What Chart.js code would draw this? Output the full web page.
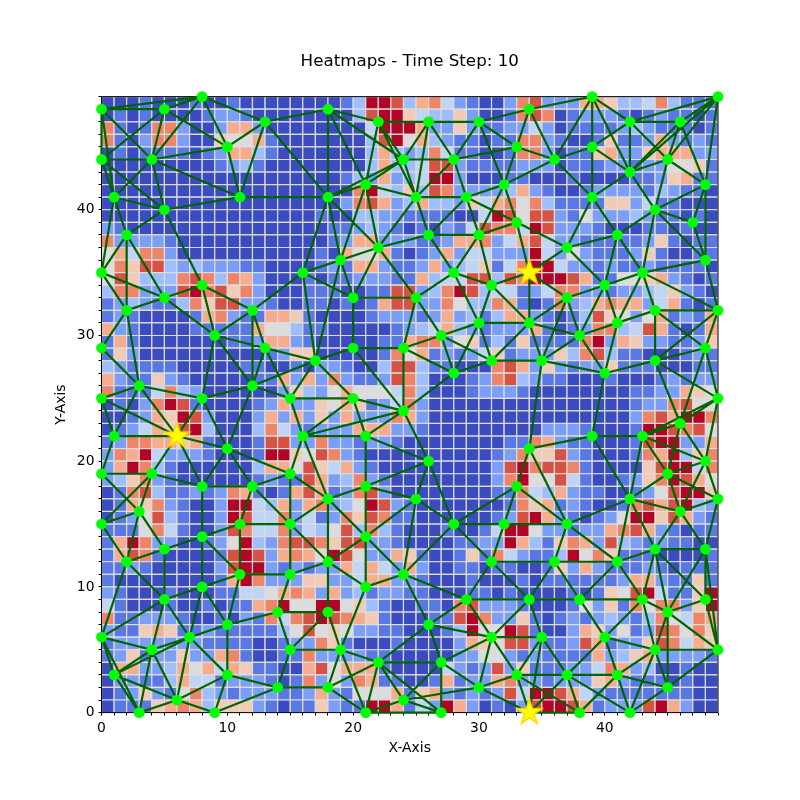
<!DOCTYPE html>
<html lang="en">
<head>
    <meta charset="UTF-8">
    <title>Heatmaps - Time Step: 10</title>
    <script src="https://cdn.jsdelivr.net/npm/chart.js@4.4.0/dist/chart.umd.min.js"></script>
    <style>
        body { margin: 0; background: #fff; }
        canvas { display: block; }
    </style>
</head>
<body>
    <canvas id="chart" width="800" height="800"></canvas>
    <script>
        // heat levels 0-10, first row is the top one (y 48-49), one column per unit of x
        const heatRows = [
            [0,0,0,1,0,0,0,1,0,0,1,0,0,0,0,0,0, 0,0,1,3,10,10,9,3,7,8,4,2,1,0,0,2, 8,9,2,2,2,7,7,6,3,3,4,8,3,1,1,1],
            [0,1,0,1,0,0,0,0,1,2,2,1,0,0,0,0,0, 0,0,0,3,9,10,10,6,4,3,3,6,2,0,0,1, 8,9,8,0,1,2,2,2,1,0,1,2,1,1,0,1],
            [8,1,0,1,8,8,2,0,0,2,7,7,2,0,0,0,0, 0,0,0,0,4,10,10,10,7,2,2,6,2,1,1,2, 2,4,2,0,1,1,1,1,2,3,2,1,1,1,0,1],
            [8,1,0,2,8,8,2,0,0,6,5,5,7,1,0,0,0, 0,0,0,0,3,9,10,5,7,3,2,1,1,0,1,1, 8,8,2,1,0,0,1,6,1,1,2,7,2,1,2,1],
            [0,1,0,1,1,1,1,0,1,2,7,7,3,1,0,0,0, 0,0,0,0,3,7,3,2,3,8,4,1,1,0,0,1, 8,8,2,0,1,1,6,7,2,2,6,7,7,7,2,2],
            [0,0,0,0,0,0,0,0,0,1,2,3,1,0,0,0,0, 0,0,0,0,3,7,3,3,4,9,9,2,1,1,1,1, 2,2,2,0,1,1,1,2,2,1,2,2,5,5,6,1],
            [0,0,0,0,0,0,0,0,0,0,0,0,0,0,0,0,0, 0,0,1,3,2,7,2,3,4,10,10,2,0,0,0,1, 1,0,0,0,1,0,0,0,0,1,1,2,6,7,1,1],
            [0,0,0,0,0,0,0,0,0,0,0,0,0,0,0,0,0, 0,0,0,8,10,4,3,6,3,9,8,2,2,2,2,3, 7,2,1,0,0,1,2,2,2,2,1,3,2,1,1,0],
            [0,0,0,0,0,0,0,0,0,0,0,0,0,0,0,0,0, 0,0,2,8,9,7,2,3,7,3,3,2,6,4,7,8, 5,8,3,1,1,1,1,6,6,2,4,1,1,0,0,0],
            [0,0,0,0,0,0,0,0,0,0,0,0,0,0,0,0,0, 1,0,0,3,3,2,2,1,1,1,1,0,0,4,10,9, 5,9,9,2,1,5,2,2,2,3,2,1,1,0,1,0],
            [2,1,0,0,0,0,0,0,0,0,0,0,0,0,0,0,0, 0,1,1,2,3,2,1,0,1,0,2,1,4,9,8,8, 4,10,9,2,2,2,1,0,0,0,1,1,0,1,0,0],
            [8,2,2,2,2,1,0,0,0,0,0,0,0,0,0,0,0, 0,1,2,7,7,2,2,2,1,1,2,7,7,8,2,4, 7,9,4,2,2,1,1,1,1,1,2,6,1,0,1,1],
            [5,7,4,8,8,2,0,0,0,0,0,0,0,0,0,0,0, 1,0,7,5,5,7,1,0,1,2,7,2,4,4,2,2, 2,10,4,2,5,2,1,1,1,2,6,1,0,0,1,1],
            [5,8,6,9,9,3,2,3,2,2,2,1,1,0,0,0,0, 1,2,1,7,7,2,1,1,2,7,2,3,4,6,1,4, 8,10,10,4,2,2,1,2,1,1,2,1,1,1,1,0],
            [5,9,6,3,3,3,8,9,8,3,8,7,2,0,0,0,1, 0,1,1,2,2,2,1,1,7,3,4,4,9,9,3,9, 8,10,10,10,9,7,1,1,5,5,6,7,2,1,0,1],
            [3,8,8,2,2,2,9,10,8,9,6,8,2,0,0,0,1, 1,1,0,0,1,1,9,9,2,3,8,10,9,3,4,4, 1,2,4,8,8,2,2,1,2,2,3,4,6,2,1,0],
            [1,2,3,2,1,1,3,8,6,9,9,2,2,1,0,0,1, 1,0,1,0,1,7,9,9,2,2,8,5,3,3,8,7, 1,0,1,8,2,3,7,8,7,7,2,4,7,1,0,1],
            [1,2,1,0,0,0,0,1,7,8,2,1,1,7,7,6,1, 0,0,0,0,1,2,2,2,1,2,7,2,3,1,3,7, 7,2,1,0,1,3,9,6,5,2,5,7,1,2,1,7],
            [7,2,1,0,0,0,0,1,1,1,1,1,7,5,5,3,1, 1,0,0,0,0,0,1,2,3,4,7,3,2,1,2,2, 2,7,1,0,1,2,8,8,3,4,9,7,1,0,1,7],
            [1,7,1,0,0,0,0,0,0,0,1,1,2,7,7,2,1, 0,0,0,0,0,1,1,7,8,8,2,5,6,1,3,1, 6,1,1,1,1,8,10,2,7,6,2,2,1,1,2,6],
            [1,6,2,0,0,0,0,0,0,0,0,0,0,1,2,6,6, 0,0,0,0,0,1,8,5,7,1,2,1,2,4,6,1, 2,2,2,6,3,8,9,3,1,1,0,0,0,1,2,1],
            [3,2,1,1,1,1,0,0,0,0,0,1,1,0,0,1,0, 2,2,1,0,0,3,9,9,3,1,1,0,0,0,8,9, 7,2,6,2,1,2,2,6,1,1,1,0,0,0,1,1],
            [7,2,1,1,6,2,1,0,0,0,0,0,1,1,7,2,7, 2,8,2,1,1,2,9,8,3,0,0,0,1,2,8,9, 3,2,1,1,0,0,0,1,0,0,0,1,2,1,2,2],
            [8,1,1,1,4,8,3,2,0,0,0,0,0,0,2,6,3, 2,5,7,5,5,5,4,8,3,0,0,0,1,2,2,2, 1,0,0,0,0,0,0,0,0,1,1,2,2,7,6,5],
            [0,1,0,2,8,10,9,1,0,0,0,0,1,2,7,2,2, 6,5,7,6,1,2,4,8,2,0,0,0,0,0,0,0, 0,0,0,0,0,0,0,0,0,1,2,2,8,9,5,5],
            [0,0,1,2,7,6,10,9,2,0,0,0,2,7,2,7,2, 6,2,7,2,2,2,8,7,2,0,0,0,0,0,0,0, 0,0,0,0,0,0,0,0,0,2,8,9,7,10,10,8],
            [0,1,2,4,7,6,9,10,3,0,0,0,3,8,4,2,1, 2,2,2,7,7,7,2,2,1,0,0,0,0,0,0,0, 0,0,2,2,2,1,0,0,0,1,10,10,9,8,9,5],
            [1,2,8,8,7,7,6,7,1,0,0,0,1,9,9,2,2, 8,2,2,1,2,2,1,0,0,0,0,0,0,0,0,1, 1,8,7,2,1,1,0,0,0,1,9,10,10,2,2,7],
            [2,8,7,10,4,2,2,2,1,0,0,0,1,10,10,6,5, 9,8,2,1,0,0,0,0,0,0,0,0,0,0,1,2, 8,6,6,9,2,1,0,0,0,1,8,7,10,3,6,8],
            [2,7,10,8,3,1,0,0,0,0,0,0,3,7,7,5,9, 6,4,7,2,1,0,0,0,0,0,0,0,0,0,2,9, 10,8,9,9,8,1,0,0,0,0,6,9,10,10,4,8],
            [2,3,6,8,2,1,0,0,0,0,0,0,1,2,1,1,9, 7,2,3,8,2,1,0,0,0,0,0,0,0,0,2,8, 10,5,5,9,4,1,0,0,1,2,6,8,10,9,7,5],
            [0,1,8,9,3,1,1,2,1,2,8,7,1,0,1,7,9, 7,1,2,8,9,2,0,0,0,0,0,0,0,0,1,1, 8,4,3,7,2,1,1,0,0,1,2,5,9,10,10,6],
            [0,1,7,6,8,2,1,0,0,2,10,10,4,3,7,2,7, 8,2,3,5,10,9,2,1,0,0,0,0,0,0,0,1, 8,6,7,1,2,1,0,0,1,8,9,7,9,10,3,2],
            [0,1,2,5,9,3,1,0,0,2,10,9,4,4,8,2,4, 1,2,8,6,9,8,1,1,0,0,0,0,0,0,1,2, 9,10,7,2,1,0,1,2,5,10,10,6,9,7,2,1],
            [1,1,1,5,8,4,1,0,0,2,9,8,4,4,8,2,4, 3,5,9,3,8,3,1,0,0,0,1,0,0,1,4,10, 10,5,2,2,1,2,2,7,8,9,7,2,1,0,1,1],
            [1,7,10,8,2,2,0,0,1,2,5,10,3,2,8,9,9, 8,6,9,9,2,2,1,0,0,0,0,1,1,2,2,10, 7,3,1,6,8,7,2,9,3,2,1,2,1,1,0,0],
            [1,7,9,8,1,0,0,0,0,1,9,10,9,2,7,8,7, 5,10,9,5,2,2,7,6,1,0,0,1,6,1,8,4, 2,1,1,3,10,5,8,6,1,1,1,0,0,0,0,1],
            [1,1,2,1,0,0,0,0,0,2,9,10,10,2,1,2,1, 2,2,7,4,7,4,2,7,2,0,0,1,1,0,1,1, 0,0,1,6,2,7,2,1,1,1,2,1,0,1,1,1],
            [1,0,0,0,0,0,0,0,0,1,7,10,8,2,2,2,6, 6,2,2,4,7,7,2,2,1,0,0,0,1,0,0,0, 1,0,1,1,1,1,1,1,2,7,7,2,1,1,6,1],
            [2,1,0,0,0,1,0,0,0,1,1,4,4,5,7,8,7, 2,7,2,3,1,2,2,1,1,0,0,0,1,1,0,1, 0,0,0,0,1,0,1,6,5,9,10,4,1,1,6,10],
            [4,1,0,0,0,1,0,0,1,0,1,1,7,8,10,5,5, 10,10,5,6,3,1,0,0,1,1,0,8,9,2,2,2, 1,0,0,0,1,5,2,6,1,8,5,8,8,2,6,10],
            [8,1,1,2,2,2,1,0,0,1,0,2,1,8,4,8,9, 10,9,8,7,6,1,0,0,0,1,1,9,10,8,2,2, 6,1,0,1,2,1,2,3,2,1,3,8,5,4,8,7],
            [2,1,1,6,7,6,1,1,2,1,1,1,1,1,3,5,9, 5,6,5,2,2,1,1,0,0,0,1,3,10,5,5,10, 9,1,0,0,2,7,6,2,5,1,2,9,8,5,8,6],
            [1,2,2,2,2,2,2,2,1,1,1,1,0,0,1,2,2, 8,6,1,0,0,0,1,0,0,0,0,2,7,6,5,9, 9,2,1,1,2,9,7,1,2,2,6,9,8,4,7,6],
            [1,2,6,1,2,2,6,2,2,7,8,1,0,0,1,1,8, 2,2,2,2,1,1,0,0,0,0,0,2,2,5,5,2, 1,2,1,1,1,1,7,2,3,6,7,2,2,2,2,1],
            [0,7,7,2,2,3,7,5,7,4,7,6,1,1,0,0,7, 9,5,7,7,7,1,0,0,0,0,4,2,1,2,9,2, 6,1,1,1,2,2,4,8,7,2,3,0,0,1,0,0],
            [0,2,2,1,1,3,7,4,4,1,2,2,2,1,0,1,8, 2,5,2,8,7,1,1,0,0,1,7,1,2,2,7,8, 2,2,1,2,2,2,6,7,2,1,1,1,0,1,0,0],
            [0,1,2,6,2,1,5,8,3,2,1,2,2,2,1,1,2, 7,2,1,5,5,5,7,1,6,7,2,1,2,1,2,9, 4,10,10,9,7,4,2,1,1,1,1,1,1,1,0,0],
            [0,1,1,1,6,7,8,7,3,6,6,6,2,1,0,1,1, 6,2,1,1,10,10,7,1,4,2,10,7,2,0,1,0, 2,9,10,10,9,7,1,2,2,2,9,10,7,2,0,0]
        ];

        const heatColors = ['#3b4cc0', '#5a78e4', '#7b9ff9', '#9ebeff', '#c0d4f5', '#dddcdc',
                            '#f2cbb7', '#f7ac8e', '#ee8468', '#d65244', '#b40426'];

        const nodes = [
            [0,48],[5,48],[8,49],[13,47],[18,48],[22,47],[26,47],[30,47],[34,48],[39,49],[42,47],[46,47],[49,49],
            [0,44],[4,44],[10,45],[24,44],[28,44],[33,45],[36,44],[39,45],[42,43],[45,44],
            [1,41],[5,40],[11,41],[18,41],[21,42],[25,41],[29,41],[32,42],[39,41],[44,40],[47,39],[48,42],
            [2,38],[22,37],[26,38],[30,38],[33,39],[37,37],[41,38],
            [0,35],[16,35],[19,36],[28,35],[34,35],[43,35],[48,36],
            [8,34],[5,33],[2,32],[12,32],[20,33],[25,33],[31,34],[37,33],[40,34],[44,32],[49,32],
            [0,29],[9,30],[13,29],[17,28],[20,29],[24,29],[27,30],[30,31],[34,31],[38,30],[41,31],[48,29],
            [28,27],[31,28],[35,28],[40,27],[44,28],
            [3,26],[12,26],[0,25],[8,25],[15,25],[20,25],[24,24],[49,25],
            [1,22],[6,22],[16,22],[21,22],[34,21],[39,22],[43,22],[46,23],
            [0,19],[4,19],[10,21],[15,19],[26,20],[45,19],[48,20],
            [8,18],[12,18],[18,17],[21,18],[25,17],[33,18],[42,17],[49,17],
            [0,15],[3,16],[11,15],[15,15],[28,15],[32,15],[37,15],[46,16],
            [5,13],[8,14],[21,14],[44,13],[48,13],
            [2,12],[11,11],[15,11],[18,12],[24,11],[31,12],[36,12],[41,12],
            [8,10],[21,10],[5,9],[29,9],[34,9],[38,9],[43,9],[48,9],[45,8],
            [14,8],[18,8],[10,7],[26,7],[0,6],[7,6],[31,6],[35,6],[40,6],
            [4,5],[15,5],[19,5],[44,5],[49,5],
            [1,3],[10,3],[22,4],[27,4],[33,3],[37,3],[41,3],[14,2],[18,2],[30,2],[45,2],
            [6,1],[24,1],
            [3,0],[9,0],[21,0],[27,0],[34,0],[38,0],[42,0]
        ];

        const stars = [[6,22],[34,35],[34,0]];

        // x1,y1,x2,y2 of every link
        const links = [
            [0,48,8,49],[0,48,5,48],[5,48,8,49],[8,49,13,47],[8,49,4,44],[8,49,10,45],[5,48,10,45],[5,48,4,44],
            [0,48,4,44],[0,48,0,44],[0,48,1,41],[0,44,1,41],[0,44,4,44],[0,44,5,48],[0,44,5,40],[4,44,1,41],
            [4,44,5,40],[4,44,10,45],[4,44,11,41],[10,45,13,47],[10,45,11,41],[13,47,11,41],[13,47,18,48],
            [1,41,5,40],[5,40,11,41],[1,41,2,38],[2,38,5,40],[5,40,8,34],[1,41,0,35],[2,38,0,35],[2,38,2,32],
            [2,38,5,33],[0,35,5,33],[0,35,2,32],[11,41,18,41],[13,47,18,41],[5,33,8,34],[2,32,5,33],
            [18,48,22,47],[18,48,24,44],[18,48,21,42],[18,48,18,41],[22,47,21,42],[22,47,26,47],[22,47,24,44],
            [22,47,25,41],[26,47,30,47],[26,47,24,44],[26,47,25,41],[26,47,28,44],[30,47,28,44],[30,47,33,45],
            [30,47,32,42],[30,47,34,48],[24,44,28,44],[24,44,18,41],[24,44,21,42],[24,44,25,41],[28,44,33,45],
            [28,44,25,41],[28,44,29,41],[21,42,18,41],[21,42,25,41],[21,42,19,36],[21,42,22,37],[25,41,29,41],
            [25,41,26,38],[25,41,22,37],[18,41,22,37],[18,41,19,36],[18,41,16,35],[29,41,32,42],[29,41,26,38],
            [29,41,30,38],[29,41,33,39],[32,42,33,45],[32,42,30,38],[32,42,33,39],[26,38,30,38],[26,38,22,37],
            [26,38,28,35],[30,38,33,39],[30,38,28,35],[30,38,31,34],[22,37,19,36],[16,35,22,37],[16,35,19,36],
            [22,37,20,33],[22,37,25,33],[19,36,20,33],[16,35,20,33],[20,33,25,33],[28,35,25,33],[28,35,31,34],
            [28,35,30,31],[31,34,30,31],[31,34,34,35],[31,34,34,31],
            [34,48,39,49],[34,48,33,45],[34,48,36,44],[39,49,36,44],[39,49,39,45],[39,49,42,47],[39,49,42,43],
            [42,47,46,47],[42,47,49,49],[42,47,39,45],[42,47,42,43],[42,47,45,44],[46,47,49,49],[46,47,45,44],
            [46,47,42,43],[46,47,48,42],[49,49,45,44],[49,49,42,43],[49,49,48,42],[33,45,36,44],[36,44,39,45],
            [36,44,39,41],[36,44,32,42],[39,45,42,43],[39,41,42,43],[39,41,39,45],[42,43,45,44],[42,43,44,40],
            [45,44,44,40],[45,44,48,42],[48,42,44,40],[48,42,47,39],[48,42,48,36],[44,40,47,39],[44,40,41,38],
            [44,40,43,35],[44,40,48,36],[47,39,48,36],[39,41,41,38],[39,41,37,37],[41,38,37,37],[41,38,40,34],
            [41,38,43,35],[33,39,37,37],[33,39,34,35],[37,37,34,35],[37,37,40,34],[43,35,40,34],[43,35,48,36],
            [48,36,49,32],[40,34,37,33],[37,33,34,35],[34,35,34,31],[43,35,44,32],[43,35,41,31],[43,35,49,32],
            [40,34,41,31],[40,34,38,30],[37,33,38,30],
            [20,33,20,29],[20,29,24,29],[20,29,17,28],[24,29,25,33],[24,29,27,30],[24,29,28,27],[24,29,24,24],
            [20,29,24,24],[17,28,20,25],[17,28,15,25],[17,28,13,29],[16,35,17,28],[19,36,17,28],[20,25,24,24],
            [20,25,16,22],[20,25,21,22],[20,25,15,25],[24,24,21,22],[24,24,16,22],[24,24,28,27],[24,24,26,20],
            [16,22,21,22],[21,22,26,20],[21,22,21,18],[26,20,21,18],[26,20,25,17],[26,20,28,15],[21,18,18,17],
            [21,18,25,17],[25,17,28,15],[25,17,21,14],[27,30,30,31],[27,30,28,27],[27,30,31,28],[30,31,28,27],
            [30,31,31,28],[30,31,34,31],[28,27,31,28],[31,28,34,31],[31,28,35,28],[25,33,27,30],
            [2,32,0,29],[2,32,3,26],[5,33,9,30],[8,34,9,30],[8,34,12,32],[9,30,12,32],[9,30,13,29],[9,30,8,25],
            [9,30,12,26],[12,32,13,29],[12,32,12,26],[13,29,12,26],[13,29,15,25],[12,32,16,35],[12,26,15,25],
            [12,26,8,25],[12,26,10,21],[12,26,17,28],[0,29,3,26],[0,25,3,26],[3,26,1,22],[3,26,6,22],[3,26,8,25],
            [0,25,6,22],[0,25,1,22],[1,22,0,19],[1,22,6,22],[8,25,6,22],[8,25,10,21],[6,22,4,19],[6,22,8,18],
            [6,22,10,21],[10,21,8,18],[10,21,12,18],[10,21,15,19],[0,19,4,19],[4,19,8,18],[4,19,3,16],[0,19,3,16],
            [8,18,12,18],[12,18,15,19],[15,25,16,22],[15,19,16,22],[4,19,0,15],[12,18,11,15],
            [12,18,15,15],[15,19,15,15],[15,19,18,17],[16,22,18,17],
            [0,15,3,16],[3,16,5,13],[3,16,2,12],[0,15,2,12],[5,13,2,12],[5,13,8,14],[5,13,5,9],[2,12,5,9],
            [2,12,0,6],[8,14,11,15],[8,14,8,10],[8,14,11,11],[11,15,15,15],[11,15,11,11],[11,11,15,11],[11,11,8,10],
            [11,11,10,7],[15,15,15,11],[8,14,8,18],[8,10,5,9],[8,10,7,6],[8,10,10,7],[5,9,7,6],[5,9,4,5],[5,9,0,6],
            [15,11,14,8],[15,11,18,12],[14,8,10,7],[14,8,18,8],[14,8,15,5],[10,7,7,6],[10,7,10,3],[7,6,4,5],
            [7,6,1,3],[7,6,6,1],[7,6,10,3],[4,5,0,6],[4,5,1,3],[4,5,3,0],[4,5,6,1],[0,6,1,3],[0,6,3,0],[1,3,3,0],
            [1,3,6,1],[6,1,3,0],[6,1,10,3],[10,3,9,0],[9,0,6,1],[9,0,14,2],[10,3,14,2],[14,2,15,5],[14,2,18,2],
            [15,15,18,17],[15,15,18,12],[15,5,18,8],[15,5,19,5],
            [21,18,21,14],[18,17,18,12],[18,17,21,14],[21,14,18,12],[21,14,21,10],[21,14,24,11],[24,11,25,17],
            [24,11,28,15],[24,11,21,10],[24,11,29,9],[24,11,26,7],[18,12,21,10],[18,12,18,8],[21,10,19,5],[18,8,19,5],
            [19,5,22,4],[19,5,18,2],[19,5,21,0],[22,4,18,2],[22,4,21,0],[22,4,24,1],[22,4,27,0],[22,4,27,4],[22,4,26,7],
            [26,7,27,4],[26,7,29,9],[26,7,31,6],[27,4,24,1],[27,4,27,0],[27,4,31,6],[27,4,30,2],[24,1,27,0],[24,1,21,0],
            [24,1,30,2],[30,2,33,3],[21,0,18,2],[21,0,27,0],[30,2,34,0],[30,2,31,6],[31,6,29,9],[31,6,33,3],
            [31,6,35,6],[31,6,34,9],[31,12,29,9],[31,12,28,15],[31,12,32,15],[31,12,36,12],[28,15,32,15],[32,15,33,18],
            [28,15,33,18],[33,18,31,12],[29,9,34,9],
            [37,15,32,15],[37,15,36,12],[37,15,41,12],[37,15,42,17],[36,12,34,9],[36,12,38,9],[36,12,41,12],[34,9,38,9],
            [34,9,35,6],[38,9,41,12],[38,9,43,9],[38,9,40,6],[41,12,44,13],[41,12,43,9],[44,13,48,13],[44,13,43,9],
            [44,13,45,8],[44,13,46,16],[44,13,42,17],[44,13,48,9],[48,13,48,9],[48,13,45,8],[48,13,46,16],[48,13,49,17],
            [48,9,45,8],[48,9,49,5],[48,13,49,5],[45,8,43,9],[45,8,44,5],[45,8,45,2],[45,8,49,5],[43,9,40,6],[43,9,44,5],
            [40,6,44,5],[40,6,41,3],[40,6,37,3],[35,6,37,3],[35,6,33,3],[35,6,34,0],[33,3,37,3],[33,3,34,0],[37,3,41,3],
            [37,3,38,0],[37,3,42,0],[41,3,44,5],[41,3,38,0],[41,3,42,0],[41,3,45,2],[44,5,49,5],[44,5,45,2],[44,5,42,0],
            [45,2,49,5],[45,2,42,0],[34,0,38,0],[33,3,38,0],[34,0,37,3],[31,12,34,9],
            [37,33,34,31],[37,33,35,28],[34,31,38,30],[34,31,35,28],[38,30,35,28],[38,30,41,31],[38,30,40,27],[41,31,40,27],
            [41,31,44,32],[44,32,49,32],[44,32,44,28],[44,32,48,29],[35,28,40,27],[35,28,34,21],[40,27,44,28],[44,28,48,29],
            [44,28,49,32],[44,28,49,25],[44,28,46,23],[48,29,49,32],[48,29,49,25],[48,29,46,23],[39,22,40,27],[39,22,43,22],
            [39,22,34,21],[39,22,42,17],[43,22,46,23],[43,22,49,25],[43,22,48,20],[43,22,45,19],[43,22,42,17],[46,23,49,25],
            [46,23,48,20],[46,23,45,19],[49,25,48,20],[48,20,45,19],[48,20,49,17],[45,19,42,17],[45,19,49,17],[45,19,46,16],
            [42,17,46,16],[48,20,46,16],[49,17,46,16],[34,21,33,18],[34,21,37,15],[33,18,37,15],[42,17,41,12]
        ];

        const cellPoints = [];
        const cellColors = [];
        heatRows.forEach((row, r) => {
            row.forEach((level, c) => {
                cellPoints.push({ x: c + 0.5, y: 48 - r + 0.5 });
                cellColors.push(heatColors[level]);
            });
        });

        // NaN point breaks the line between two links
        const linkPoints = [];
        links.forEach(l => {
            linkPoints.push({ x: l[0], y: l[1] }, { x: l[2], y: l[3] }, { x: NaN, y: NaN });
        });

        // Chart.js 'star' is not a five arm star, so the marker is a small canvas
        function makeStar(outer) {
            const size = Math.ceil(outer * 2) + 4;
            const cv = document.createElement('canvas');
            cv.width = size;
            cv.height = size;
            const g = cv.getContext('2d');
            g.beginPath();
            for (let i = 0; i < 10; i++) {
                const r = i % 2 ? outer * 0.382 : outer;
                const a = -Math.PI / 2 + i * Math.PI / 5;
                g.lineTo(size / 2 + r * Math.cos(a), size / 2 + r * Math.sin(a));
            }
            g.closePath();
            g.fillStyle = '#ffff00';
            g.fill();
            g.lineWidth = 1.4;
            g.strokeStyle = '#ffd700';
            g.stroke();
            return cv;
        }

        const frame = {
            id: 'frame',
            afterDatasetDraw(chart, args) {
                if (args.index !== 3) return;
                const a = chart.chartArea;
                const g = chart.ctx;
                g.save();
                g.strokeStyle = '#000';
                g.lineWidth = 1;
                g.strokeRect(a.left, a.top, a.right - a.left, a.bottom - a.top);
                g.restore();
            }
        };

        function axis(label, padding) {
            return {
                type: 'linear',
                min: 0,
                max: 49,
                border: { display: false },
                grid: { drawOnChartArea: false, drawTicks: true, tickLength: 3, tickColor: '#000', tickWidth: 1 },
                ticks: {
                    stepSize: 1,
                    autoSkip: false,
                    maxRotation: 0,
                    padding: 4,
                    color: '#000',
                    font: { family: 'DejaVu Sans', size: 13.9 },
                    callback: v => (v % 10 === 0 ? String(v) : '')
                },
                title: {
                    display: true,
                    text: label,
                    color: '#000',
                    font: { family: 'DejaVu Sans', size: 13.9 },
                    padding: padding
                }
            };
        }

        const xAxis = axis('X-Axis', { top: 0, bottom: 43 });
        xAxis.afterFit = s => { s.height = 87.4; };
        const yAxis = axis('Y-Axis', { top: 53, bottom: 0 });
        yAxis.afterFit = s => { s.width = 101.5; };

        // empty axis on the right keeps the plot off the edge
        const rightAxis = {
            type: 'linear',
            position: 'right',
            min: 0,
            max: 49,
            border: { display: false },
            grid: { display: false },
            ticks: { display: false },
            afterFit: s => { s.width = 82; }
        };

        new Chart(document.getElementById('chart'), {
            type: 'scatter',
            data: {
                datasets: [
                    {
                        data: stars.map(p => ({ x: p[0], y: p[1] })),
                        pointStyle: makeStar(13.5),
                        clip: false,
                        order: 0
                    },
                    {
                        data: nodes.map(p => ({ x: p[0], y: p[1] })),
                        pointStyle: 'circle',
                        pointRadius: 5.4,
                        pointBackgroundColor: '#00ff00',
                        pointBorderWidth: 0,
                        clip: false,
                        order: 1
                    },
                    {
                        data: linkPoints,
                        showLine: true,
                        spanGaps: false,
                        borderColor: '#006400',
                        borderWidth: 2.2,
                        pointRadius: 0,
                        clip: false,
                        order: 2
                    },
                    {
                        data: cellPoints,
                        pointStyle: 'rect',
                        pointRadius: ctx => {
                            const s = ctx.chart.scales.x;
                            return Math.abs(s.getPixelForValue(1) - s.getPixelForValue(0)) * Math.SQRT1_2;
                        },
                        pointBackgroundColor: cellColors,
                        pointBorderColor: '#dcdcdc',
                        pointBorderWidth: 1.2,
                        order: 3
                    }
                ]
            },
            options: {
                responsive: false,
                animation: false,
                events: [],
                scales: { x: xAxis, y: yAxis, yRight: rightAxis },
                plugins: {
                    legend: { display: false },
                    tooltip: { enabled: false },
                    title: {
                        display: true,
                        fullSize: false,
                        text: 'Heatmaps - Time Step: 10',
                        color: '#000',
                        font: { family: 'DejaVu Sans', size: 16.7, weight: 'normal' },
                        padding: { top: 52, bottom: 24.6 }
                    }
                }
            },
            plugins: [frame]
        });
    </script>
</body>
</html>
